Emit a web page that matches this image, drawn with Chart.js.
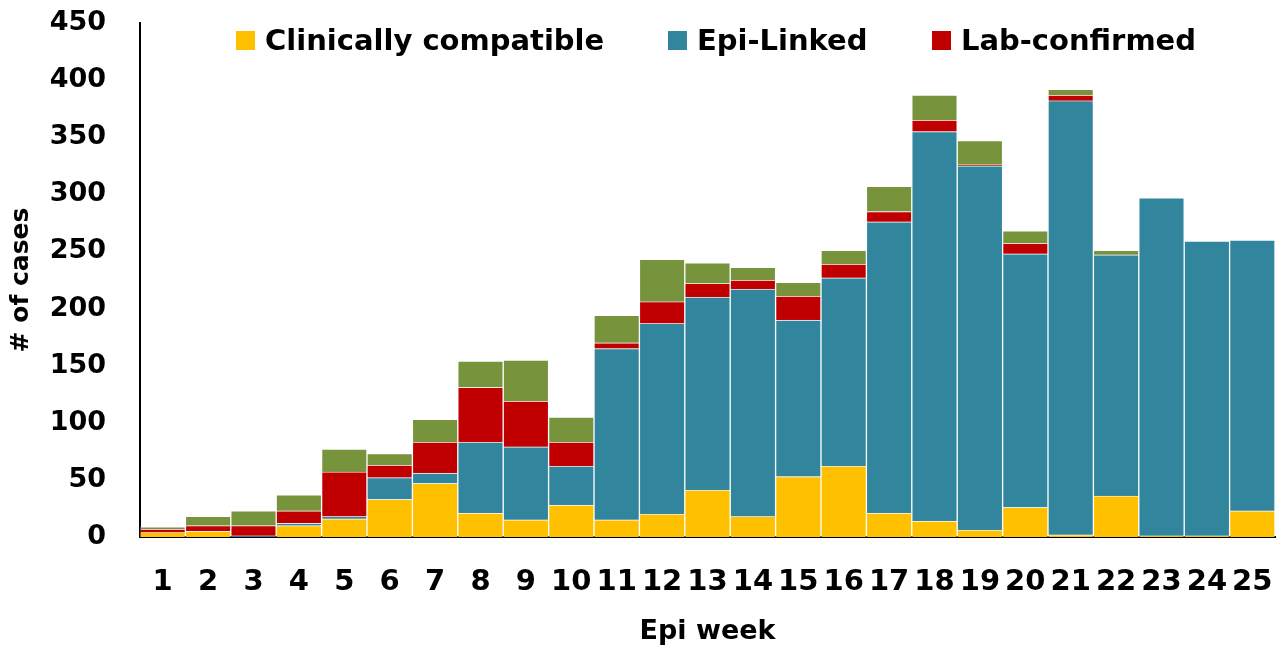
<!DOCTYPE html>
<html>
<head>
<meta charset="utf-8">
<script src="https://cdn.jsdelivr.net/npm/chart.js@4/dist/chart.umd.min.js"></script>
<style>
  body { margin: 0; background: #fff; }
  #wrap { position: relative; width: 1288px; height: 649px; }
  .leg { position: absolute; top: 24px; height: 32px; display: flex; align-items: center;
         font-family: "DejaVu Sans", sans-serif; font-weight: bold; font-size: 29px; color: #000; white-space: nowrap; }
  .leg span { display: inline-block; width: 19px; height: 19px; margin-right: 10px; }
</style>
</head>
<body>
<div id="wrap">
  <canvas id="epiChart" width="1288" height="649"></canvas>
  <div class="leg" style="left:236px"><span style="background:#FFC000"></span>Clinically compatible</div>
  <div class="leg" style="left:668px"><span style="background:#31859C"></span>Epi-Linked</div>
  <div class="leg" style="left:932px"><span style="background:#C00000"></span>Lab-confirmed</div>
</div>
<script>
// epi weeks 1..25
const weeks = ['1','2','3','4','5','6','7','8','9','10','11','12','13','14','15','16','17','18','19','20','21','22','23','24','25'];

// cases per week
const clinical = [4,5,0,10,16,33,47,21,15,28,15,20,41,18,53,62,21,14,6,26,2,36,1,1,23];
const epiLinked = [0,0,1,2,2,19,9,62,64,34,150,167,169,199,137,165,255,341,319,222,380,211,296,258,237];
const labConfirmed = [3,5,9,11,39,11,27,48,40,21,5,19,12,8,21,12,9,10,1,9,5,0,0,0,0];
const other = [2,8,13,14,20,10,20,23,36,22,24,37,18,11,12,12,22,22,21,11,5,4,0,0,0];

const yTicks = [0,50,100,150,200,250,300,350,400,450];

const edge = 'rgba(255,255,255,0.25)';

var ctx = document.getElementById('epiChart').getContext('2d');
var epiChart = new Chart(ctx, {
    type: 'bar',
    data: {
        labels: weeks,
        datasets: [
            { label: 'Clinically compatible', data: clinical, backgroundColor: '#FFC000' },
            { label: 'Epi-Linked', data: epiLinked, backgroundColor: '#31859C' },
            { label: 'Lab-confirmed', data: labConfirmed, backgroundColor: '#C00000' },
            { label: 'Other', data: other, backgroundColor: '#77933C' }
        ].map(d => Object.assign(d, {
            borderColor: edge,
            borderWidth: 1,
            barPercentage: 1,
            categoryPercentage: 1
        }))
    },
    options: {
        responsive: false,
        animation: false,
        layout: { padding: { top: 23, right: 13, left: 0, bottom: 0 } },
        plugins: {
            legend: { display: false },
            tooltip: { enabled: false }
        },
        scales: {
            x: {
                stacked: true,
                // invisible tick marks just push the labels down
                grid: { display: false, drawTicks: true, tickLength: 26 },
                border: { display: true, color: '#000', width: 2 },
                ticks: {
                    padding: 2,
                    color: '#000',
                    maxRotation: 0,
                    autoSkip: false,
                    font: { family: 'DejaVu Sans', weight: 'bold', size: 29 }
                },
                title: {
                    display: true,
                    text: 'Epi week',
                    color: '#000',
                    padding: { top: 0, bottom: 1 },
                    font: { family: 'DejaVu Sans', weight: 'bold', size: 27 }
                },
                afterFit: function (s) { s.height = 112; }
            },
            y: {
                stacked: true,
                min: 0,
                max: 450,
                afterBuildTicks: function (s) { s.ticks = yTicks.map(v => ({ value: v })); },
                grid: { display: false, drawTicks: true, tickLength: 30 },
                border: { display: true, color: '#000', width: 2 },
                ticks: {
                    padding: 4,
                    color: '#000',
                    font: { family: 'DejaVu Sans', weight: 'bold', size: 27 }
                },
                title: {
                    display: true,
                    text: '# of cases',
                    color: '#000',
                    padding: { top: 6, bottom: 0 },
                    font: { family: 'DejaVu Sans', weight: 'bold', size: 25 }
                },
                afterFit: function (s) { s.width = 140; }
            }
        }
    }
});
</script>
</body>
</html>
